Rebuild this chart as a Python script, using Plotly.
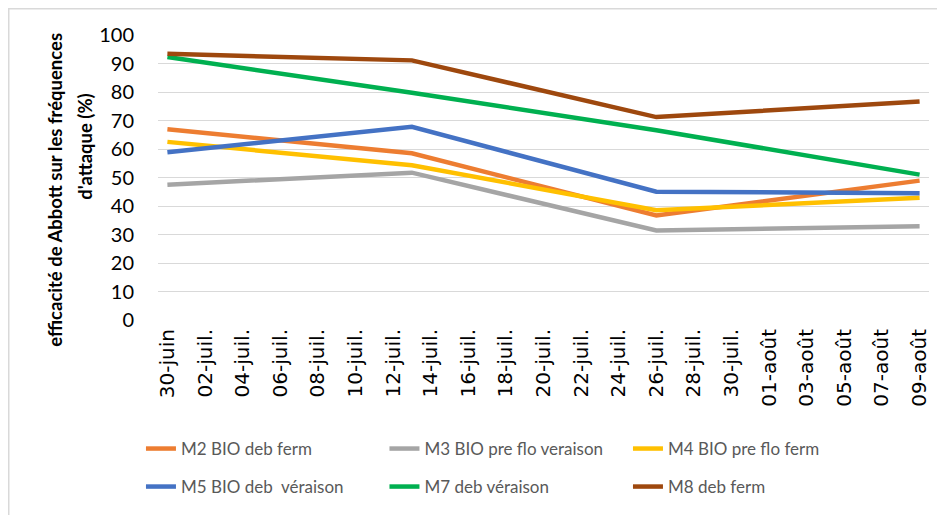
import pandas as pd
import plotly.graph_objects as go

# Dates of the observations
dates = ["2021-06-30", "2021-07-13", "2021-07-26", "2021-08-09"]

m2 = [66.9, 58.5, 36.7, 48.9]
m3 = [47.5, 51.7, 31.4, 32.9]
m4 = [62.5, 54.3, 38.5, 42.9]
m5 = [58.9, 67.8, 45.0, 44.5]
m7 = [92.3, 79.7, 66.6, 51.0]
m8 = [93.4, 91.1, 71.2, 76.7]

names = ["M2 BIO deb ferm", "M3 BIO pre flo veraison", "M4 BIO pre flo ferm",
         "M5 BIO deb  véraison", "M7 deb véraison", "M8 deb ferm"]
colors = ["#ED7D31", "#A5A5A5", "#FFC000", "#4472C4", "#00B050", "#9E480E"]

tick_labels = ["30-juin", "02-juil.", "04-juil.", "06-juil.", "08-juil.", "10-juil.",
               "12-juil.", "14-juil.", "16-juil.", "18-juil.", "20-juil.", "22-juil.",
               "24-juil.", "26-juil.", "28-juil.", "30-juil.", "01-août", "03-août",
               "05-août", "07-août", "09-août"]
tick_vals = pd.date_range(dates[0], periods=len(tick_labels), freq="2D")

y_title = ["efficacité de Abbott sur les fréquences", "d'attaque (%)"]

series = [m2, m3, m4, m5, m7, m8]
x = pd.to_datetime(dates)

fig = go.Figure()
for i, (name, ys, col) in enumerate(zip(names, series, colors)):
    fig.add_trace(go.Scatter(
        x=x, y=ys, name=name, mode="lines",
        line=dict(color=col, width=4.5),
        legend="legend" if i < 3 else "legend2",
    ))

x0 = x[0] - pd.Timedelta(hours=12)
x1 = x[-1] + pd.Timedelta(hours=12)

legend_style = dict(orientation="h", xref="container", yref="container",
                    x=0.1407, xanchor="left", yanchor="middle",
                    entrywidth=198.5, entrywidthmode="pixels",
                    font=dict(family="Lato", size=17, color="#595959"),
                    bgcolor="rgba(0,0,0,0)")

title_font = dict(family="Lato", size=18.5, color="#000000", weight="bold")

fig.update_layout(
    width=945, height=515,
    margin=dict(l=150, r=24, t=27, b=203, autoexpand=False),
    paper_bgcolor="white", plot_bgcolor="white",
    font=dict(family="Lato", color="#000000"),
    showlegend=True,
    legend=dict(legend_style, y=0.1437),
    legend2=dict(legend_style, y=0.0699),
    xaxis=dict(range=[x0, x1], tickvals=tick_vals, ticktext=tick_labels,
               tickangle=-90, showgrid=False, zeroline=False, showline=False,
               automargin=False, ticklabelstandoff=4,
               tickfont=dict(family="DejaVu Sans", size=20, color="#000000")),
    yaxis=dict(range=[0, 100], dtick=10, showgrid=True, gridcolor="#D9D9D9",
               gridwidth=1.3, zeroline=False, showline=False, ticklabelstandoff=23,
               automargin=False,
               tickfont=dict(family="Lato", size=20, color="#000000")),
    annotations=[
        dict(text=y_title[0], xref="paper", yref="paper", x=-0.134, y=0.456,
             xanchor="center", yanchor="middle", textangle=-90, showarrow=False,
             font=title_font),
        dict(text=y_title[1], xref="paper", yref="paper", x=-0.095, y=0.607,
             xanchor="center", yanchor="middle", textangle=-90, showarrow=False,
             font=title_font),
    ],
    shapes=[dict(type="rect", xref="paper", yref="paper",
                 x0=-0.1936, x1=1.1, y0=-0.8, y1=1.0921,
                 line=dict(color="#D9D9D9", width=1.5), layer="below")],
)

fig.write_html("out.html")
